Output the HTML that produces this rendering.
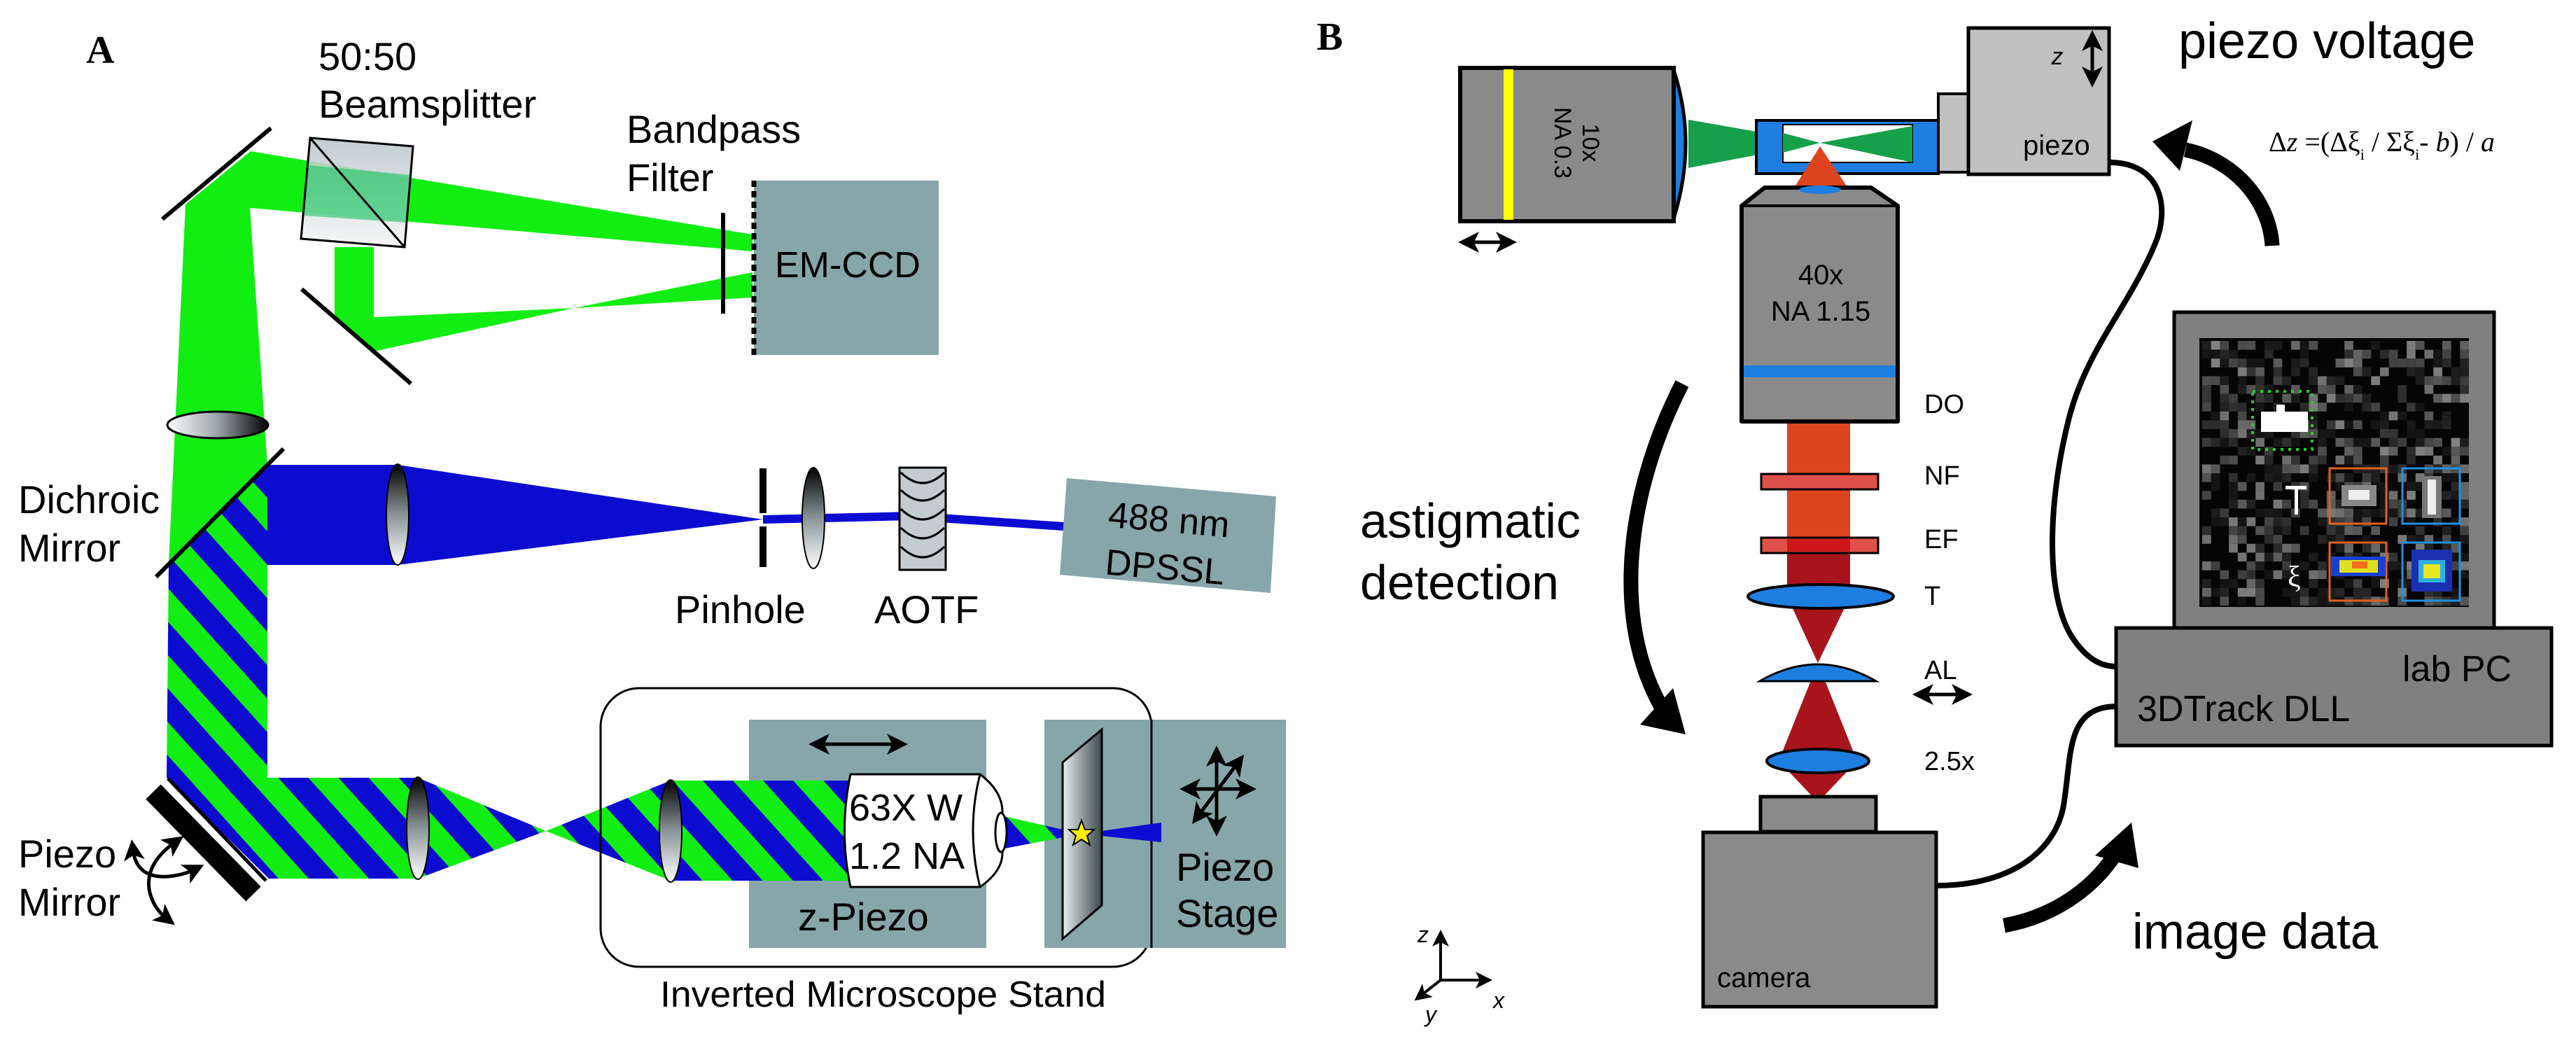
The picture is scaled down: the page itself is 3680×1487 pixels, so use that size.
<!DOCTYPE html>
<html><head><meta charset="utf-8">
<style>
html,body{margin:0;padding:0;background:#fff;}
svg{display:block;}
text{font-family:"Liberation Sans",sans-serif;}
</style></head>
<body>
<svg id="s" width="3680" height="1487" viewBox="0 0 3680 1487" xmlns="http://www.w3.org/2000/svg">
<defs>
<pattern id="str" width="64" height="64" patternUnits="userSpaceOnUse" patternTransform="rotate(48)">
<rect width="64" height="64" fill="#0c0cd0"/><rect width="64" height="32" fill="#12ee12"/>
</pattern>
<linearGradient id="lg" x1="0" y1="0" x2="1" y2="0"><stop offset="0" stop-color="#fff"/><stop offset="0.5" stop-color="#9aa4a8"/><stop offset="1" stop-color="#000"/></linearGradient>
<linearGradient id="lgv" x1="0" y1="0" x2="0" y2="1"><stop offset="0" stop-color="#000"/><stop offset="0.5" stop-color="#8a9498"/><stop offset="1" stop-color="#fff"/></linearGradient>
<linearGradient id="slide" x1="0" y1="0" x2="1" y2="0"><stop offset="0" stop-color="#e8eeee"/><stop offset="1" stop-color="#3c4a4c"/></linearGradient>
<linearGradient id="bs" x1="0" y1="0" x2="0" y2="1"><stop offset="0" stop-color="#b8c4c8"/><stop offset="1" stop-color="#f4f6f6"/></linearGradient>
<marker id="ah" markerWidth="6" markerHeight="6" refX="3" refY="3" orient="auto-start-reverse" markerUnits="strokeWidth"><path d="M0,0 L6,3 L0,6 L1.5,3 Z" fill="#000"/></marker>
</defs>

<!-- ================= PANEL A ================= -->
<text x="123" y="90" font-weight="bold" font-size="56" style="font-family:'Liberation Serif',serif">A</text>
<text x="455" y="100" font-size="56">50:50</text>
<text x="455" y="168" font-size="56">Beamsplitter</text>
<text x="895" y="204" font-size="56">Bandpass</text>
<text x="895" y="273" font-size="56">Filter</text>
<text x="26" y="733" font-size="56">Dichroic</text>
<text x="26" y="802" font-size="56">Mirror</text>
<text x="26" y="1239" font-size="56">Piezo</text>
<text x="26" y="1308" font-size="56">Mirror</text>

<polygon points="265,292 358,216 1075,335 1075,359 357,297 382,664 241,805" fill="#12ee12"/>
<polygon points="478,353 534,353 534,453 820,440 534,502 478,454" fill="#12ee12"/>
<polygon points="820,440 1075,389 1075,425" fill="#12ee12"/>
<line x1="232" y1="313" x2="387" y2="183" stroke="#000" stroke-width="6"/>
<line x1="431" y1="413" x2="587" y2="548" stroke="#000" stroke-width="6"/>
<polygon points="443,197 590,209 578,353 430,341" fill="url(#bs)" opacity="0.85"/>
<polygon points="440,236 588,250 582,318 434,308" fill="#10c060" opacity="0.55"/>
<polygon points="443,197 590,209 578,353 430,341" fill="none" stroke="#000" stroke-width="3"/>
<line x1="443" y1="197" x2="578" y2="353" stroke="#000" stroke-width="3"/>
<ellipse cx="311" cy="607" rx="72" ry="19" fill="url(#lg)" stroke="#000" stroke-width="3"/>
<line x1="1033" y1="304" x2="1033" y2="448" stroke="#000" stroke-width="6"/>
<rect x="1077" y="258" width="264" height="249" fill="#87a6a9"/>
<line x1="1077" y1="258" x2="1077" y2="507" stroke="#000" stroke-width="7" stroke-dasharray="9,6"/>
<text x="1107" y="396" font-size="52">EM-CCD</text>

<polygon points="382,664 568,664 1090,742 568,807 382,807" fill="#0c0cd0"/>
<polyline points="1090,742 1300,737 1520,752" fill="none" stroke="#0c0cd0" stroke-width="12"/>
<ellipse cx="568" cy="735" rx="16" ry="72" fill="url(#lgv)" stroke="#000" stroke-width="2"/>
<rect x="1085" y="669" width="10" height="64" fill="#000"/>
<rect x="1085" y="752" width="10" height="58" fill="#000"/>
<ellipse cx="1162" cy="740" rx="16" ry="72" fill="url(#lgv)" stroke="#000" stroke-width="2"/>
<rect x="1285" y="668" width="66" height="146" fill="#c4ccd0" stroke="#000" stroke-width="3"/>
<g fill="none" stroke="#000" stroke-width="3">
<path d="M1287,675 Q1318,705 1349,675"/><path d="M1287,700 Q1318,730 1349,700"/><path d="M1287,727 Q1318,757 1349,727"/><path d="M1287,754 Q1318,784 1349,754"/><path d="M1287,781 Q1318,811 1349,781"/>
</g>
<polygon points="1524,683 1823,709 1815,847 1514,821" fill="#87a6a9"/>
<g transform="rotate(5 1668 765)"><text x="1668" y="760" font-size="52" text-anchor="middle">488 nm</text><text x="1668" y="828" font-size="52" text-anchor="middle">DPSSL</text></g>
<text x="964" y="890" font-size="56">Pinhole</text>
<text x="1249" y="890" font-size="56">AOTF</text>

<polygon points="382,664 382,1111 597,1111 597,1255 384,1255 238,1111 241,805" fill="url(#str)"/>
<polygon points="597,1111 780,1187 597,1255" fill="url(#str)"/>
<polygon points="780,1187 958,1115 958,1258" fill="url(#str)"/>
<line x1="405" y1="641" x2="223" y2="824" stroke="#000" stroke-width="6"/>
<line x1="219" y1="1131" x2="362" y2="1277" stroke="#000" stroke-width="30"/>
<line x1="240" y1="1112" x2="380" y2="1258" stroke="#000" stroke-width="5"/>
<g fill="none" stroke="#000" stroke-width="5">
<path d="M190,1214 Q195,1255 240,1252 Q262,1250 278,1242" marker-end="url(#ah)" marker-start="url(#ah)"/>
<path d="M250,1203 Q205,1235 214,1275 Q220,1298 238,1312" marker-end="url(#ah)" marker-start="url(#ah)"/>
</g>
<ellipse cx="597" cy="1183" rx="16" ry="73" fill="url(#lgv)" stroke="#000" stroke-width="2"/>
<rect x="858" y="983" width="787" height="398" rx="55" ry="55" fill="none" stroke="#000" stroke-width="3"/>
<rect x="1070" y="1028" width="339" height="326" fill="#87a6a9"/>
<rect x="1492" y="1028" width="345" height="326" fill="#87a6a9"/>
<line x1="1645" y1="1028" x2="1645" y2="1354" stroke="#000" stroke-width="3"/>
<rect x="958" y="1115" width="272" height="143" fill="url(#str)"/>
<ellipse cx="958" cy="1187" rx="16" ry="73" fill="url(#lgv)" stroke="#000" stroke-width="2"/>
<line x1="1170" y1="1063" x2="1282" y2="1063" stroke="#000" stroke-width="5" marker-end="url(#ah)" marker-start="url(#ah)"/>
<polygon points="1430,1165 1430,1213 1545,1191" fill="url(#str)"/>
<polygon points="1545,1191 1659,1175 1659,1203" fill="#0c0cd0"/>
<path d="M1215,1106 L1400,1106 Q1432,1130 1432,1160 L1432,1218 Q1432,1245 1400,1267 L1215,1267 Q1198,1186 1215,1106 Z" fill="#fff" stroke="#000" stroke-width="3"/>
<path d="M1400,1106 Q1380,1186 1400,1267" fill="none" stroke="#000" stroke-width="3"/>
<ellipse cx="1430" cy="1189" rx="8" ry="28" fill="#fff" stroke="#000" stroke-width="3"/>
<text x="1213" y="1172" font-size="54">63X W</text>
<text x="1213" y="1241" font-size="54">1.2 NA</text>
<text x="1140" y="1329" font-size="56">z-Piezo</text>
<polygon points="1518,1089 1574,1042 1574,1293 1518,1341" fill="url(#slide)" stroke="#000" stroke-width="3"/>
<polygon points="1545,1172 1550,1185 1563,1185 1553,1194 1557,1207 1545,1199 1533,1207 1537,1194 1527,1185 1540,1185" fill="#ffee00" stroke="#000" stroke-width="2"/>
<g stroke="#000" stroke-width="5" fill="none">
<line x1="1700" y1="1127" x2="1780" y2="1127" marker-end="url(#ah)" marker-start="url(#ah)"/>
<line x1="1738" y1="1080" x2="1738" y2="1180" marker-end="url(#ah)" marker-start="url(#ah)"/>
<line x1="1712" y1="1165" x2="1768" y2="1090" marker-end="url(#ah)" marker-start="url(#ah)"/>
</g>
<text x="1680" y="1258" font-size="56">Piezo</text>
<text x="1680" y="1324" font-size="56">Stage</text>
<text x="943" y="1438" font-size="52" textLength="637" lengthAdjust="spacingAndGlyphs">Inverted Microscope Stand</text>

<!-- ================= PANEL B ================= -->
<text x="1881" y="71" font-weight="bold" font-size="56" style="font-family:'Liberation Serif',serif">B</text>
<path d="M2391,100 Q2425,204 2391,312" fill="#1e7ee0" stroke="#000" stroke-width="5"/>
<polygon points="2412,171 2600,204 2412,240" fill="#16a04a"/>
<rect x="2086" y="97" width="305" height="219" fill="#8a8a8a" stroke="#000" stroke-width="6"/>
<rect x="2148" y="99" width="14" height="215" fill="#ffff00"/>
<text transform="translate(2251,204) rotate(90)" font-size="34" text-anchor="middle"><tspan x="0" y="-10">10x</tspan><tspan x="0" y="30">NA 0.3</tspan></text>
<line x1="2098" y1="346" x2="2152" y2="346" stroke="#000" stroke-width="5" marker-end="url(#ah)" marker-start="url(#ah)"/>
<rect x="2509" y="172" width="260" height="76" fill="#1e7ee0" stroke="#000" stroke-width="4"/>
<rect x="2547" y="178" width="185" height="54" fill="#fff" stroke="#000" stroke-width="2"/>
<polygon points="2547,190 2600,204 2547,218" fill="#16a04a"/>
<polygon points="2600,204 2732,180 2732,232" fill="#16a04a"/>
<rect x="2769" y="134" width="43" height="112" fill="#c0c0c0" stroke="#000" stroke-width="4"/>
<rect x="2812" y="40" width="201" height="209" fill="#c0c0c0" stroke="#000" stroke-width="5"/>
<text x="2939" y="92" font-size="34" font-style="italic" text-anchor="middle">z</text>
<line x1="2989" y1="58" x2="2989" y2="110" stroke="#000" stroke-width="5" marker-end="url(#ah)" marker-start="url(#ah)"/>
<text x="2890" y="221" font-size="40">piezo</text>
<polygon points="2562,270 2641,270 2600,209" fill="#dc4420"/>
<path d="M2521,268 L2673,268 L2711,294 L2711,602 L2488,602 L2488,294 Z" fill="#8a8a8a" stroke="#000" stroke-width="6" stroke-linejoin="round"/>
<line x1="2488" y1="294" x2="2711" y2="294" stroke="#000" stroke-width="4"/>
<ellipse cx="2600" cy="271" rx="30" ry="6" fill="#1e7ee0"/>
<rect x="2491" y="522" width="217" height="17" fill="#1e7ee0"/>
<text x="2601" y="406" font-size="40" text-anchor="middle">40x</text>
<text x="2601" y="458" font-size="40" text-anchor="middle">NA 1.15</text>
<rect x="2553" y="605" width="90" height="175" fill="#dc4420"/>
<rect x="2553" y="780" width="90" height="72" fill="#a8141c"/>
<polygon points="2553,852 2643,852 2597,947" fill="#a8141c"/>
<polygon points="2597,947 2541,1087 2653,1087" fill="#a8141c"/>
<polygon points="2541,1087 2653,1087 2597,1146" fill="#a8141c"/>
<rect x="2516" y="677" width="167" height="22" fill="#e0504a" stroke="#000" stroke-width="3"/>
<rect x="2516" y="768" width="167" height="22" fill="#e0504a" stroke="#000" stroke-width="3"/>
<rect x="2553" y="770" width="90" height="18" fill="#cc1818"/>
<ellipse cx="2601" cy="852" rx="104" ry="17" fill="#1e7ee0" stroke="#000" stroke-width="4"/>
<path d="M2514,973 Q2597,925 2680,973 Z" fill="#1e7ee0" stroke="#000" stroke-width="3"/>
<ellipse cx="2597" cy="1087" rx="73" ry="17" fill="#1e7ee0" stroke="#000" stroke-width="4"/>
<g font-size="38">
<text x="2749" y="590">DO</text><text x="2749" y="692">NF</text><text x="2749" y="783">EF</text>
<text x="2749" y="864">T</text><text x="2749" y="970">AL</text><text x="2749" y="1100">2.5x</text>
</g>
<line x1="2747" y1="992" x2="2803" y2="992" stroke="#000" stroke-width="5" marker-end="url(#ah)" marker-start="url(#ah)"/>
<rect x="2515" y="1138" width="165" height="50" fill="#8a8a8a" stroke="#000" stroke-width="5"/>
<rect x="2433" y="1189" width="333" height="249" fill="#8a8a8a" stroke="#000" stroke-width="5"/>
<text x="2453" y="1410" font-size="40">camera</text>
<g stroke="#000" stroke-width="4" fill="none">
<line x1="2058" y1="1400" x2="2058" y2="1340" marker-end="url(#ah)"/>
<line x1="2058" y1="1400" x2="2120" y2="1400" marker-end="url(#ah)"/>
<line x1="2058" y1="1400" x2="2030" y2="1422" marker-end="url(#ah)"/>
</g>
<text x="2025" y="1346" font-size="32" font-style="italic">z</text>
<text x="2133" y="1440" font-size="32" font-style="italic">x</text>
<text x="2036" y="1460" font-size="32" font-style="italic">y</text>
<text x="1943" y="768" font-size="70">astigmatic</text>
<text x="1943" y="856" font-size="70">detection</text>
<path d="M2403,548 C2330,690 2295,880 2378,1018" fill="none" stroke="#000" stroke-width="21"/>
<polygon points="2408,1049 2343,1035 2390,983" fill="#000"/>
<text x="3112" y="83" font-size="72">piezo voltage</text>
<text x="3241" y="216" font-size="40" style="font-family:'Liberation Serif',serif">Δ<tspan font-style="italic">z</tspan> =(Δξ<tspan font-size="22" dy="12">i</tspan><tspan dy="-12"> / Σξ</tspan><tspan font-size="22" dy="12">i</tspan><tspan dy="-12">- </tspan><tspan font-style="italic">b</tspan>) / <tspan font-style="italic">a</tspan></text>
<path d="M3246,351 C3242,285 3190,228 3122,214" fill="none" stroke="#000" stroke-width="21"/>
<polygon points="3075,202 3132,172 3114,244" fill="#000"/>
<path d="M3013,232 C3090,232 3100,300 3078,350 C3040,440 2980,500 2955,600 C2925,720 2922,850 2960,910 C2980,940 3000,952 3023,952" fill="none" stroke="#000" stroke-width="8"/>
<path d="M2766,1265 C2880,1265 2938,1210 2948,1150 C2960,1080 2950,1010 3023,1009" fill="none" stroke="#000" stroke-width="8"/>
<path d="M2863,1322 C2930,1310 2990,1272 3025,1215" fill="none" stroke="#000" stroke-width="21"/>
<polygon points="3045,1175 2993,1222 3055,1240" fill="#000"/>
<text x="3046" y="1355" font-size="71">image data</text>
<rect x="3106" y="446" width="457" height="452" fill="#808080" stroke="#000" stroke-width="5"/>
<rect x="3142" y="483" width="385" height="384" fill="#050505"/>
<g id="noise"></g>
<rect x="3230" y="588" width="67" height="29" fill="#fff"/>
<rect x="3252" y="578" width="12" height="12" fill="#fff"/>
<rect x="3218" y="559" width="85" height="83" fill="none" stroke="#20d020" stroke-width="4" stroke-dasharray="4,7"/>
<g fill="none" stroke-width="3">
<rect x="3328" y="669" width="81" height="79" stroke="#e06020"/>
<rect x="3432" y="669" width="82" height="79" stroke="#2090e0"/>
<rect x="3328" y="775" width="81" height="83" stroke="#e06020"/>
<rect x="3432" y="775" width="82" height="83" stroke="#2090e0"/>
</g>
<rect x="3345" y="693" width="50" height="30" fill="#888"/><rect x="3355" y="700" width="30" height="14" fill="#eee"/>
<rect x="3460" y="680" width="28" height="60" fill="#777"/><rect x="3468" y="685" width="12" height="50" fill="#eee"/>
<rect x="3330" y="795" width="78" height="28" fill="#1a40d0"/><rect x="3342" y="800" width="55" height="18" fill="#e0e020"/><rect x="3360" y="802" width="22" height="10" fill="#f07020"/>
<rect x="3445" y="785" width="58" height="60" fill="#1a30b0"/><rect x="3455" y="800" width="38" height="32" fill="#30b0e0"/><rect x="3462" y="806" width="24" height="20" fill="#e8e820"/>
<rect x="3265" y="694" width="30" height="5" fill="#fff"/><rect x="3278" y="694" width="5" height="41" fill="#fff"/>
<text x="3268" y="838" font-size="42" fill="#fff" style="font-family:'Liberation Serif',serif">ξ</text>
<rect x="3023" y="897" width="622" height="168" fill="#808080" stroke="#000" stroke-width="5"/>
<text x="3432" y="973" font-size="52">lab PC</text>
<text x="3053" y="1030" font-size="52">3DTrack DLL</text>
</svg>
<script>
(function(){var g=document.getElementById('noise');var s=12345;function r(){s=(s*1103515245+12345)%2147483648;return s/2147483648;}
var ns='http://www.w3.org/2000/svg';for(var y=0;y<30;y++){for(var x=0;x<30;x++){var v=r();if(v<0.45)continue;var c=Math.floor(20+Math.pow(r(),2)*110);var e=document.createElementNS(ns,'rect');e.setAttribute('x',3146+x*12.7);e.setAttribute('y',487+y*12.6);e.setAttribute('width',12.7);e.setAttribute('height',12.6);e.setAttribute('fill','rgb('+c+','+c+','+c+')');g.appendChild(e);}}})();
</script>
</body></html>
